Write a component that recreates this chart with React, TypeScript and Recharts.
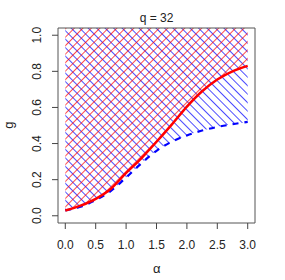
import React from 'react';
import { ComposedChart, Area, Line, XAxis, YAxis, ReferenceArea } from 'recharts';

const ALPHA = [0, 0.25, 0.5, 0.75, 1.0, 1.25, 1.5, 1.75, 2.0, 2.25, 2.5, 2.75, 3.0];
const RED_G = [0.029, 0.056, 0.094, 0.15, 0.237, 0.318, 0.41, 0.505, 0.605, 0.69, 0.755, 0.8, 0.83];
const BLUE_G = [0.03, 0.05, 0.087, 0.138, 0.212, 0.29, 0.36, 0.41, 0.445, 0.472, 0.492, 0.507, 0.52];
const X_TICKS = [0, 0.5, 1, 1.5, 2, 2.5, 3];
const Y_TICKS = [0, 0.2, 0.4, 0.6, 0.8, 1.0];
const X_DOMAIN: [number, number] = [-0.12, 3.12];
const Y_DOMAIN: [number, number] = [-0.04, 1.04];

const data = ALPHA.map((a, i) => ({
  a,
  red: RED_G[i],
  blue: BLUE_G[i],
  redBand: [RED_G[i], Y_DOMAIN[1]],
  blueBand: [BLUE_G[i], Y_DOMAIN[1]],
}));

const font = 'Liberation Sans, Arial, sans-serif';

// R-style rotated y tick labels
const YTick = (props: any) => {
  const { y, payload } = props;
  const x = 41;
  return (
    <text x={x} y={y} transform={`rotate(-90, ${x}, ${y})`} textAnchor="middle"
      fontSize={12} fontFamily={font} fill="#222">
      {payload.value.toFixed(1)}
    </text>
  );
};

export default function App() {
  return (
    <div style={{ position: 'absolute', left: 0, top: 0, width: 285, height: 280, background: '#fff' }}>
      <ComposedChart width={285} height={280} data={data}
        margin={{ top: 28, right: 30, bottom: 0, left: 0 }}>
        <defs>
          <pattern id="hatchRed" width={6} height={6} patternUnits="userSpaceOnUse" patternTransform="rotate(45)">
            <line x1={0} y1={0} x2={0} y2={6} stroke="#ff0000" strokeWidth={1.4} />
          </pattern>
          <pattern id="hatchBlue" width={6} height={6} patternUnits="userSpaceOnUse" patternTransform="rotate(-45)">
            <line x1={0} y1={0} x2={0} y2={6} stroke="#0000ff" strokeWidth={1.4} />
          </pattern>
        </defs>
        <XAxis dataKey="a" type="number" domain={X_DOMAIN} ticks={X_TICKS} allowDataOverflow
          height={57} axisLine={false} tickSize={6} tickMargin={11}
          tickLine={{ stroke: '#444' }}
          tick={{ fontSize: 12, fontFamily: font, fill: '#222' }}
          tickFormatter={(v: number) => v.toFixed(1)}
          label={{
            content: () => (
              <text x={156.7} y={273} textAnchor="middle" fontSize={13} fontFamily={font} fill="#222">α</text>
            ),
          }}
        />
        <YAxis type="number" domain={Y_DOMAIN} ticks={Y_TICKS} allowDataOverflow
          width={58} axisLine={false} tickSize={6}
          tickLine={{ stroke: '#444' }}
          tick={<YTick />}
          label={{
            content: () => (
              <text x={13} y={125} transform="rotate(-90, 13, 125)" textAnchor="middle"
                fontSize={13} fontFamily={font} fill="#222">g</text>
            ),
          }}
        />
        <Area type="monotone" dataKey="blueBand" fill="url(#hatchBlue)" fillOpacity={1} stroke="none" isAnimationActive={false} />
        <Area type="monotone" dataKey="redBand" fill="url(#hatchRed)" fillOpacity={1} stroke="none" isAnimationActive={false} />
        <Line type="monotone" dataKey="blue" stroke="#0000ff" strokeWidth={2.2} strokeDasharray="6 6" dot={false} isAnimationActive={false} />
        <Line type="monotone" dataKey="red" stroke="#ff0000" strokeWidth={2.5} dot={false} isAnimationActive={false} />
        <ReferenceArea x1={X_DOMAIN[0]} x2={X_DOMAIN[1]} y1={Y_DOMAIN[0]} y2={Y_DOMAIN[1]}
          fill="none" stroke="#555" strokeWidth={1} ifOverflow="visible" />
      </ComposedChart>
      <div style={{ position: 'absolute', left: 58, width: 197, top: 10, textAlign: 'center',
        fontFamily: font, fontSize: 12, color: '#222', lineHeight: '16px' }}>
        q = 32
      </div>
    </div>
  );
}
